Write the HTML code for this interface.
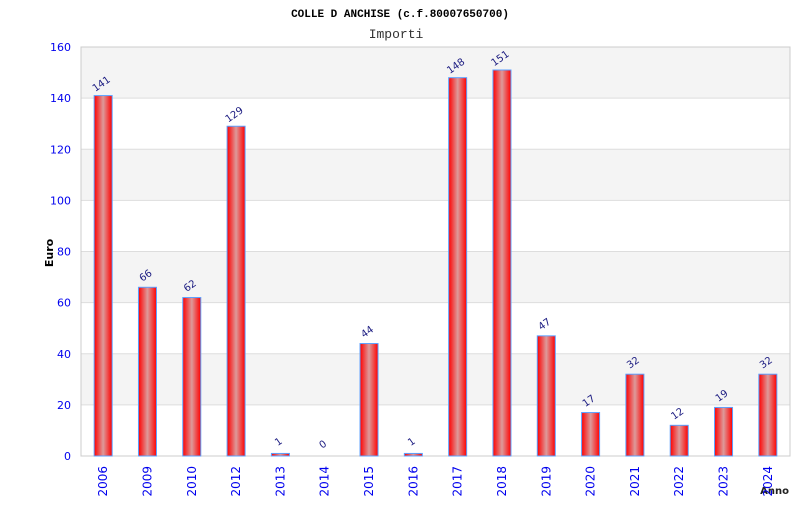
<!DOCTYPE html>
<html><head><meta charset="utf-8"><style>
body{margin:0;background:#fff;width:800px;height:500px;overflow:hidden}
svg text{font-family:"DejaVu Sans","Liberation Sans",sans-serif}
svg text.mono{font-family:"Liberation Mono",monospace}
</style></head><body>
<svg id="c" width="800" height="500">
<defs><linearGradient id="g" x1="0" x2="1" y1="0" y2="0">
<stop offset="0" stop-color="#ff0000"/><stop offset="0.5" stop-color="#dd9a9a"/><stop offset="1" stop-color="#ff0000"/></linearGradient></defs>
<text class="mono" x="400" y="17" text-anchor="middle" font-size="11" font-weight="bold">COLLE D ANCHISE (c.f.80007650700)</text>
<text class="mono" x="396" y="38" text-anchor="middle" font-size="13" fill="#333">Importi</text>
<text transform="translate(53,253) rotate(-90)" text-anchor="middle" font-size="11" font-weight="bold">Euro</text>
<text x="789" y="494" text-anchor="end" font-size="10" font-weight="bold" fill="#222">Anno</text>
<g id="plot"></g>
</svg>
<script>
const categories=["2006","2009","2010","2012","2013","2014","2015","2016","2017","2018","2019","2020","2021","2022","2023","2024"];
const values=[141,66,62,129,1,0,44,1,148,151,47,17,32,12,19,32];
const yTicks=[0,20,40,60,80,100,120,140,160];
const L=81,R=790,T=47,B=456,yMax=160;
const y=v=>B-(v/yMax)*(B-T);
const step=(R-L)/categories.length;
const x=i=>L+step*(i+0.5);
const g=document.getElementById('plot');
const NS='http://www.w3.org/2000/svg';
function mk(t,a){const e=document.createElementNS(NS,t);for(const k in a)e.setAttribute(k,a[k]);g.appendChild(e);return e;}
for(let i=0;i<yTicks.length-1;i++){
 const r=mk('rect',{x:L,y:y(yTicks[i+1]),width:R-L,height:y(yTicks[i])-y(yTicks[i+1]),fill:i%2?'#f4f4f4':'#fff'});
 
 
}
yTicks.forEach(v=>{
 const l=mk('line',{x1:L,x2:R,y1:y(v),y2:y(v),stroke:'#ddd'});
 
 
 const t=mk('text',{x:L-10,y:y(v)+4,'text-anchor':'end','font-size':11,fill:'#0000ee'});
 t.textContent=v;
 
 
});
const fr=mk('rect',{x:L,y:T,width:R-L,height:B-T,fill:'none',stroke:'#ccc'});


categories.forEach((c,i)=>{
 const v=values[i],cx=x(i),bw=18;
 if(v>0){
 const b=mk('rect',{x:cx-bw/2,y:y(v),width:bw,height:B-y(v),fill:'url(#g)',stroke:'#5aa0ff','stroke-width':1});
 
 
 }
 const t=mk('text',{transform:`translate(${cx},${y(v)-9}) rotate(-35)`,'text-anchor':'middle','font-size':10,fill:'#1a1a80'});
 t.textContent=v;
 
 
 const xl=mk('text',{transform:`translate(${cx+4},${B+10}) rotate(-90)`,'text-anchor':'end','font-size':12,fill:'#0000ee'});
 xl.textContent=c;
 
 
});
</script>
</body></html>
